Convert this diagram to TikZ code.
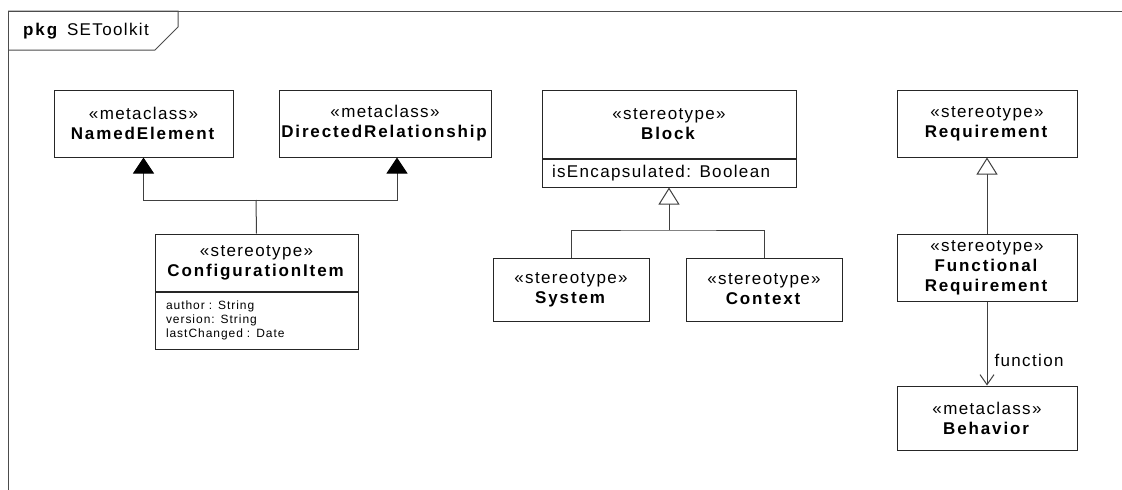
\documentclass[tikz,border=0pt]{standalone}
\usepackage{fontspec}
\setmainfont{Liberation Sans}[LetterSpace=8, BoldFeatures={LetterSpace=11}]
\usetikzlibrary{arrows.meta}
\begin{document}
\begin{tikzpicture}[x=1pt,y=-1pt,
  every node/.style={font=\fontsize{17}{20}\selectfont, text=black},
  umlbox/.style={draw=black!85, line width=1pt, fill=white, align=center, inner sep=0pt},
  comp/.style={draw=black!85, line width=1pt, fill=white, align=left, inner ysep=0pt, anchor=north},
  frameline/.style={draw=black!70, line width=1pt},
  conn/.style={draw=black!75, line width=1pt},
  filledtri/.style={-{Triangle[length=16pt,width=21pt,color=black]}},
  opentri/.style={-{Triangle[open,length=17pt,width=21pt,fill=white]}},
  openarrow/.style={-{Straight Barb[length=10pt,width=14pt]}}
]
\useasboundingbox (0,0) rectangle (1122,490);
% frame
\draw[frameline] (1122,11) -- (8,11) -- (8,490);
\draw[frameline] (8,11) -- (178,11) -- (178,27) -- (155,50) -- (8,50);
\node[anchor=base west, inner sep=0pt] (pkg) at (23,35) {\textbf{pkg}\hspace{8pt}SEToolkit};

% boxes
\node[umlbox, minimum width=179pt, minimum height=67pt] (ne) at (143.5,123.5) {«metaclass»\\\textbf{NamedElement}};
\node[umlbox, minimum width=212pt, minimum height=67pt] (dr) at (385,123.5) {«metaclass»\\\textbf{DirectedRelationship}};

\node[umlbox, minimum width=203pt, minimum height=57pt] (ci) at (256.5,262.5) {«stereotype»\\\textbf{ConfigurationItem}};
\node[comp, font=\fontsize{12}{14}\selectfont, inner xsep=11pt, text width=181pt, minimum height=57pt] (ciattr) at (ci.south) {author : String\\version: String\\lastChanged : Date};

\node[umlbox, minimum width=254pt, minimum height=68pt] (block) at (669,124) {«stereotype»\\\textbf{Block}};
\node[comp, inner xsep=10pt, text width=234pt, minimum height=28pt] (blockattr) at (block.south) {isEncapsulated: Boolean};

\node[umlbox, minimum width=156pt, minimum height=63pt] (sys) at (571,289.5) {«stereotype»\\\textbf{System}};
\node[umlbox, minimum width=156pt, minimum height=63pt] (ctx) at (764,289.5) {«stereotype»\\\textbf{Context}};

\node[umlbox, minimum width=180pt, minimum height=67pt] (req) at (987,123.5) {«stereotype»\\\textbf{Requirement}};
\node[umlbox, minimum width=180pt, minimum height=67pt] (fr) at (987,267.5) {«stereotype»\\\textbf{Functional}\\\textbf{Requirement}};
\node[umlbox, minimum width=180pt, minimum height=64pt] (beh) at (987,418) {«metaclass»\\\textbf{Behavior}};

% connectors
\coordinate (j) at (256,200);
\draw[conn] (ci.north) -- (j);
\draw[conn, filledtri] (j) -| (ne.south);
\draw[conn, filledtri] (j) -| ([xshift=12pt]dr.south);

\coordinate (g) at (669,230);
\draw[conn, opentri] (g) -- (blockattr.south);
\draw[conn] (sys.north) |- (g) -| (ctx.north);

\draw[conn, opentri] (fr.north) -- (req.south);
\draw[conn, openarrow] (fr.south) -- node[pos=0.7, anchor=west, xshift=7pt, inner sep=0pt] (fnlabel) {function} (beh.north);
\end{tikzpicture}
\end{document}
